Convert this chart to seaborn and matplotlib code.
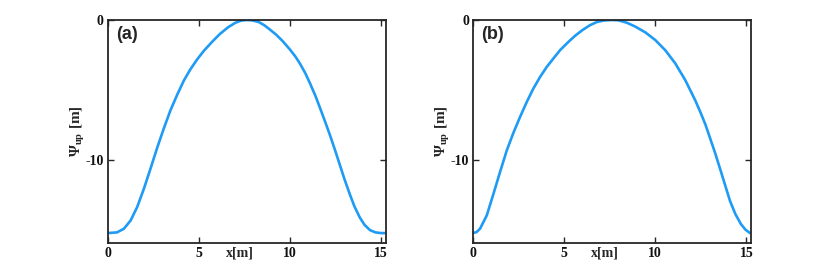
import pandas as pd
import matplotlib
matplotlib.use('Agg')
import matplotlib.pyplot as plt
import seaborn as sns

# values
x_a = [0.0, 0.50, 0.88, 1.25, 1.61, 1.98, 2.34, 2.71, 3.08, 3.44, 3.81, 4.18, 4.54,
       4.91, 5.27, 5.73, 6.15, 6.60, 7.00, 7.30, 7.62, 7.95, 8.30, 8.60, 8.90, 9.25,
       9.60, 10.00, 10.30, 10.55, 10.85, 11.10, 11.40, 11.65, 11.95, 12.20, 12.50,
       12.75, 13.00, 13.30, 13.55, 13.85, 14.10, 14.40, 14.70, 15.00, 15.20]
psi_a = [-15.19, -15.14, -14.88, -14.29, -13.33, -12.02, -10.60, -9.10, -7.70, -6.43,
         -5.32, -4.30, -3.50, -2.80, -2.20, -1.55, -1.00, -0.52, -0.20, -0.05, 0.0,
         -0.03, -0.15, -0.38, -0.68, -1.05, -1.50, -2.10, -2.60, -3.10, -3.80, -4.50,
         -5.40, -6.25, -7.30, -8.20, -9.35, -10.35, -11.35, -12.45, -13.30, -14.10,
         -14.60, -14.98, -15.14, -15.19, -15.19]

x_b = [0.0, 0.19, 0.38, 0.75, 1.12, 1.48, 1.85, 2.21, 2.58, 2.95, 3.31, 3.68, 4.05,
       4.41, 4.78, 5.24, 5.60, 6.00, 6.40, 6.80, 7.20, 7.62, 7.97, 8.45, 8.90, 9.45,
       10.00, 10.55, 11.10, 11.65, 12.20, 12.50, 12.75, 13.00, 13.30, 13.60, 13.85,
       14.10, 14.40, 14.70, 14.95, 15.20]
psi_b = [-15.19, -15.12, -14.88, -13.93, -12.38, -10.83, -9.29, -8.05, -6.90, -5.83,
         -4.88, -4.05, -3.33, -2.74, -2.14, -1.55, -1.12, -0.72, -0.38, -0.14, -0.03,
         0.0, -0.02, -0.20, -0.47, -0.88, -1.43, -2.16, -3.10, -4.30, -5.75, -6.65,
         -7.45, -8.40, -9.55, -10.80, -11.85, -12.90, -13.85, -14.55, -14.95, -15.19]

panels = ['(a)', '(b)']
xticks = [0, 5, 10, 15]
yticks = [-10, 0]

sns.set_theme(style='white')
plt.rcParams['font.family'] = ['Liberation Serif', 'DejaVu Serif']
plt.rcParams['mathtext.fontset'] = 'custom'
plt.rcParams['mathtext.rm'] = 'Liberation Serif:bold'
plt.rcParams['mathtext.it'] = 'Liberation Serif:bold'
plt.rcParams['mathtext.bf'] = 'Liberation Serif:bold'

fig = plt.figure(figsize=(8.3, 2.74), dpi=100)
ax_a = fig.add_axes([0.130, 0.113, 0.3346, 0.814])
ax_b = fig.add_axes([0.570, 0.113, 0.335, 0.814])

edge = '#262626'
blue = '#1E9BF5'
for ax, xs, ys, tag in [(ax_a, x_a, psi_a, panels[0]), (ax_b, x_b, psi_b, panels[1])]:
    df = pd.DataFrame({'x': xs, 'psi': ys})
    sns.lineplot(data=df, x='x', y='psi', ax=ax, color=blue, lw=1.9,
                 estimator=None, sort=False)
    ax.set_xlim(0, 15.26)
    ax.set_ylim(-15.9, 0)
    ax.set_xticks(xticks)
    ax.set_yticks(yticks)
    ax.set_xticklabels([str(t) for t in xticks], fontweight='bold', fontsize=10)
    ax.set_yticklabels([str(t) for t in yticks], fontweight='bold', fontsize=10)
    ax.tick_params(direction='in', length=4, width=1, color=edge, pad=3,
                   top=True, right=True, bottom=True, left=True, labelcolor='#111111')
    for s in ax.spines.values():
        s.set_edgecolor(edge)
        s.set_linewidth(1.3)
        s.set_visible(True)
    ax.set_xlabel('')
    ax.set_ylabel(r'$\Psi_{up}$ [m]', fontsize=11, fontweight='bold', labelpad=-1)
    ax.text(0.475, -0.045, 'x[m]', transform=ax.transAxes, ha='center', va='center',
            fontsize=10, fontweight='bold')
    ax.text(0.03, 0.935, tag, transform=ax.transAxes, ha='left', va='center',
            fontsize=13, fontweight='bold', family=['Liberation Sans', 'DejaVu Sans'])
    ax.grid(False)

fig.savefig('out.png', dpi=100)
